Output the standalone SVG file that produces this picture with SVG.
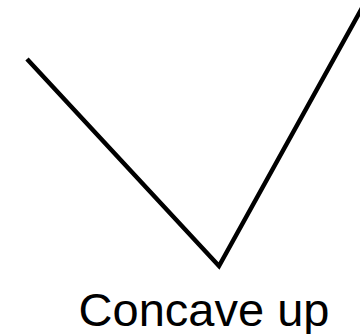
<svg xmlns="http://www.w3.org/2000/svg" width="360" height="334" viewBox="0 0 360 334">
<style>
.edge{fill:none;stroke:#000;stroke-width:4.5;stroke-linejoin:miter}
.lbl{font-family:"Liberation Sans",Arial,sans-serif;font-size:47px;fill:#000}
</style>
<rect width="360" height="334" fill="#fff"/>
<g id="connectors">
<polyline class="edge" points="27,59 219,266 362,8"/>
</g>
<g id="label">
<text class="lbl" x="204" y="326" text-anchor="middle">Concave up</text>
</g>
</svg>
